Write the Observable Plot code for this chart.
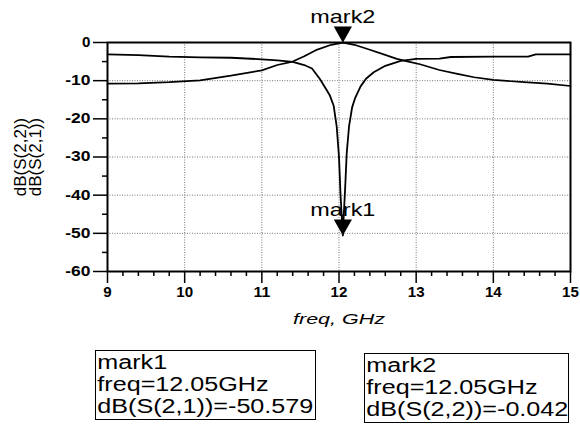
<!DOCTYPE html>
<html>
<head>
<meta charset="utf-8">
<script src="https://cdn.jsdelivr.net/npm/d3@7"></script>
<script src="https://cdn.jsdelivr.net/npm/@observablehq/plot@0.6"></script>
<style>
  body { margin: 0; background: #fff; }
  #wrap { position: relative; width: 580px; height: 425px; background: #fff; }
  .box { position: absolute; box-sizing: border-box; border: 1.5px solid #000;
         font-family: "Liberation Sans", Arial, sans-serif; font-size: 19.5px;
         white-space: nowrap; color: #000; overflow: visible; }
  .box .ln { height: 22px; line-height: 22px; }
  .box .ln span { display: inline-block; transform: scaleX(1.29); transform-origin: 0 50%; padding-left: 1px; }
</style>
</head>
<body>
<div id="wrap"></div>
<script>
// ---- data ----
const freqS21 = [9.0, 9.4, 9.8, 10.2, 10.6, 11.0, 11.2, 11.4, 11.55, 11.65, 11.75, 11.82, 11.88, 11.93, 11.97, 12.0, 12.02, 12.04, 12.05, 12.06, 12.08, 12.1, 12.13, 12.17, 12.21, 12.28, 12.35, 12.45, 12.6, 12.8, 13.0, 13.3, 13.45, 14.0, 14.45, 14.55, 15.0];
const dbS21   = [-3.1, -3.3, -3.7, -3.9, -4.0, -4.4, -4.7, -5.1, -5.9, -6.8, -9.5, -11.8, -13.8, -16.5, -22, -30, -40, -47, -50.579, -46, -38, -29, -22, -17, -14.5, -11.5, -9.5, -7.8, -6.1, -4.8, -4.3, -4.2, -3.8, -3.7, -3.7, -3.1, -3.1];

const freqS22 = [9.0, 9.4, 9.8, 10.2, 10.6, 11.0, 11.2, 11.4, 11.55, 11.7, 11.9, 12.05, 12.2, 12.4, 12.55, 12.75, 12.9, 13.05, 13.3, 13.55, 13.75, 14.0, 14.4, 14.7, 15.0];
const dbS22   = [-10.8, -10.7, -10.4, -9.9, -8.7, -7.3, -5.9, -5.0, -3.6, -2.0, -0.6, -0.042, -0.6, -1.9, -2.9, -4.3, -5.0, -5.7, -7.2, -8.3, -9.1, -9.8, -10.4, -10.8, -11.4];

const markNames  = ["mark1", "mark2"];
const markTraces = ["dB(S(2,1))", "dB(S(2,2))"];
const markFreqs  = [12.05, 12.05];
const markVals   = [-50.579, -0.042];

const xTicks = [9, 10, 11, 12, 13, 14, 15];
const yTicks = [0, -10, -20, -30, -40, -50, -60];
const yMinor = [-5, -15, -25, -35, -45, -55];
const xMinor = d3.range(45, 76).map(i => i / 5).filter(v => v % 1 !== 0);

const xLabel = "freq, GHz";
const yLabelLines = ["dB(S(2,2))", "dB(S(2,1))"];

// ---- tables ----
const s21 = freqS21.map((f, i) => ({f, v: dbS21[i]}));
const s22 = freqS22.map((f, i) => ({f, v: dbS22[i]}));
const markers = markNames.map((name, i) => ({name, f: markFreqs[i], v: markVals[i]}));

const downTriangle = {
  draw(context, size) {
    const r = Math.sqrt(size / Math.PI);
    context.moveTo(0, 0);
    context.lineTo(-r * 1.3, -r * 2.3);
    context.lineTo(r * 1.3, -r * 2.3);
    context.closePath();
  }
};

const chart = Plot.plot({
  width: 580,
  height: 335,
  marginLeft: 107,
  marginRight: 10,
  marginTop: 42,
  marginBottom: 64,
  x: {domain: [9, 15]},
  y: {domain: [-60, 0]},
  style: {fontFamily: "Liberation Sans, Arial, sans-serif", background: "#fff", color: "#000"},
  marks: [
    Plot.gridX(xTicks.slice(1, -1), {stroke: "#777", strokeOpacity: 1, strokeDasharray: "1,1.5"}),
    Plot.gridY(yTicks.slice(1, -1), {stroke: "#777", strokeOpacity: 1, strokeDasharray: "1,1.5"}),
    Plot.line(s22, {x: "f", y: "v", stroke: "#000", strokeWidth: 1.7}),
    Plot.line(s21, {x: "f", y: "v", stroke: "#000", strokeWidth: 1.8}),
    Plot.frame({stroke: "#000", strokeWidth: 2}),
    Plot.axisY(yTicks, {tickSize: 14, tickPadding: 3, fontSize: 14,
      tickFormat: d => String(d), label: null, strokeWidth: 1.5}),
    Plot.axisY(yMinor, {tickSize: 5, tickFormat: () => "", label: null, strokeWidth: 1.5}),
    Plot.axisX(xTicks, {tickSize: 12, tickPadding: 4, fontSize: 14,
      tickFormat: d => String(d), label: null, strokeWidth: 1.5}),
    Plot.axisX(xMinor, {tickSize: 5, tickFormat: () => "", label: null, strokeWidth: 1.5}),
    Plot.text(markers, {x: "f", y: "v", text: "name", dy: -20, lineAnchor: "bottom",
      fontSize: 19, fill: "#000", className: "marklab"}),
    Plot.dot(markers, {x: "f", y: "v", symbol: downTriangle, r: 7, fill: "#000", stroke: null}),
    Plot.text([xLabel], {text: d => d, frameAnchor: "bottom", dy: 52, lineAnchor: "bottom",
      fontSize: 15, fontStyle: "italic", className: "freqlab"}),
    Plot.text([yLabelLines.join("\n")], {text: d => d, frameAnchor: "left", rotate: -90, dx: -79,
      textAnchor: "middle", lineAnchor: "middle", fontSize: 17, lineHeight: 0.92})
  ]
});

const sel = d3.select(chart);
// bold, slightly widened numeric tick labels
sel.selectAll("text").each(function() {
  const t = this.textContent;
  if (/^-?\d+$/.test(t)) {
    this.setAttribute("font-weight", "bold");
    this.style.fontWeight = "bold";
    this.setAttribute("textLength", (t.length * 8.4).toFixed(1));
    this.setAttribute("lengthAdjust", "spacingAndGlyphs");
  }
});
sel.selectAll(".freqlab text")
  .attr("textLength", 92).attr("lengthAdjust", "spacingAndGlyphs");
sel.selectAll(".marklab text")
  .attr("textLength", 65).attr("lengthAdjust", "spacingAndGlyphs");

const wrap = document.getElementById("wrap");
wrap.appendChild(chart);

const boxPos = [{left: 95, top: 350, width: 221, height: 70}, {left: 364, top: 353, width: 205, height: 70}];
markers.forEach((m, i) => {
  const div = document.createElement("div");
  div.className = "box";
  const p = boxPos[i];
  Object.assign(div.style, {left: p.left + "px", top: p.top + "px", width: p.width + "px", height: p.height + "px"});
  [m.name, `freq=${m.f.toFixed(2)}GHz`, `${markTraces[i]}=${m.v.toFixed(3)}`].forEach(t => {
    const line = document.createElement("div");
    line.className = "ln";
    const span = document.createElement("span");
    span.textContent = t;
    line.appendChild(span);
    div.appendChild(line);
  });
  wrap.appendChild(div);
});
</script>
</body>
</html>
